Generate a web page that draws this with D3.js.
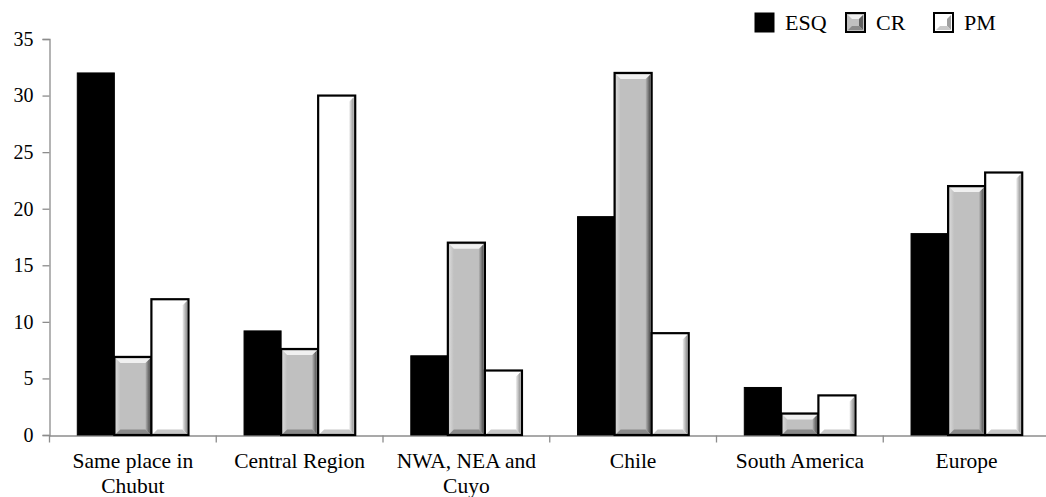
<!DOCTYPE html>
<html><head><meta charset="utf-8">
<script src="https://cdn.jsdelivr.net/npm/d3@7/dist/d3.min.js"></script>
<style>body{margin:0;background:#fff}svg{display:block}
svg text{font-family:"Liberation Serif","Times New Roman","DejaVu Serif",serif;}</style>
</head><body>
<script>
const categories = [["Same place in","Chubut"],["Central Region"],["NWA, NEA and","Cuyo"],["Chile"],["South America"],["Europe"]];
const series = ["ESQ","CR","PM"];
const esqValues = [32, 9.2, 7, 19.3, 4.2, 17.8];
const crValues = [6.9, 7.6, 17, 32, 1.9, 22];
const pmValues = [12, 30, 5.7, 9, 3.5, 23.2];
const yTicks = [0,5,10,15,20,25,30,35];

const W=1046,H=497;
const svg=d3.select("body").append("svg").attr("width",W).attr("height",H);
const catKeys=categories.map(c=>c.join(" "));
const x0=d3.scaleBand().domain(catKeys).range([49.5,1050]).paddingInner(0).paddingOuter(0);
const x1=d3.scaleBand().domain(series).range([0,x0.bandwidth()]).paddingInner(0).paddingOuter(0.75);
const y=d3.scaleLinear().domain([0,35]).range([435,39]);

const styles={
  ESQ:{fill:"#000",bevel:false},
  CR:{fill:"#c0c0c0",bevel:true,light:"#f0f0f0",dark:"#8a8a8a"},
  PM:{fill:"#ffffff",bevel:true,light:"#ffffff",dark:"#c8c8c8"}
};
const vals={ESQ:esqValues,CR:crValues,PM:pmValues};

const defs=svg.append("defs");
function grad(id,c1,c2){const g=defs.append("linearGradient").attr("id",id).attr("x1","0").attr("x2","1").attr("y1","0").attr("y2","0");
 g.append("stop").attr("offset","0%").attr("stop-color",c1);g.append("stop").attr("offset","100%").attr("stop-color",c2);}
grad("crR","#b5b5b5","#505050");grad("crL","#d8d8d8","#c0c0c0");
grad("pmR","#f0f0f0","#909090");grad("pmL","#ffffff","#ffffff");

// axes
const yAxis=d3.axisLeft(y).tickValues(yTicks).tickSize(7).tickPadding(9);
const gy=svg.append("g").attr("transform","translate(49.5,0)").call(yAxis);
gy.attr("font-family",null);
gy.select(".domain").attr("stroke","#8c8c8c").attr("stroke-width",1.3);
gy.selectAll(".tick line").attr("stroke","#8c8c8c").attr("stroke-width",1.3);
gy.selectAll(".tick text").attr("font-size",20).attr("fill","#000");

const xAxis=d3.axisBottom(x0).tickSize(0).tickFormat("");
const gx=svg.append("g").attr("transform","translate(0,435.5)").call(xAxis);
gx.select(".domain").attr("stroke","#8c8c8c").attr("stroke-width",1.3);
gx.selectAll(".bt").data(catKeys).enter().append("line").attr("class","bt")
 .attr("x1",d=>x0(d)).attr("x2",d=>x0(d)).attr("y1",0).attr("y2",7).attr("stroke","#8c8c8c").attr("stroke-width",1.3);

// bars
const groups=svg.append("g").selectAll("g").data(catKeys).enter().append("g").attr("transform",d=>`translate(${x0(d)},0)`);
groups.each(function(c,i){
  const g=d3.select(this);
  series.forEach(s=>{
    const v=vals[s][i], st=styles[s];
    const bx=x1(s), bw=x1.bandwidth(), by=y(v), bh=y(0)-y(v);
    if(!st.bevel){
      g.append("rect").attr("x",bx).attr("y",by).attr("width",bw).attr("height",bh).attr("fill",st.fill).attr("stroke","#000").attr("stroke-width",1);
      return;
    }
    g.append("rect").attr("x",bx).attr("y",by).attr("width",bw).attr("height",bh).attr("fill",st.fill);
    const b=Math.min(4.5,bh/2), x0b=bx+1.5, x1b=bx+bw-1.5, y0b=by+1.5, y1b=by+bh-1;
    const id=s==="CR"?"cr":"pm";
    g.append("polygon").attr("points",`${x0b},${y0b} ${x0b+b},${y0b+b} ${x0b+b},${y1b-b} ${x0b},${y1b}`).attr("fill",`url(#${id}L)`);
    g.append("polygon").attr("points",`${x1b},${y0b} ${x1b-b},${y0b+b} ${x1b-b},${y1b-b} ${x1b},${y1b}`).attr("fill",`url(#${id}R)`);
    g.append("polygon").attr("points",`${x0b},${y0b} ${x1b},${y0b} ${x1b-b},${y0b+b} ${x0b+b},${y0b+b}`).attr("fill",st.light);
    g.append("polygon").attr("points",`${x0b},${y1b} ${x1b},${y1b} ${x1b-b},${y1b-b} ${x0b+b},${y1b-b}`).attr("fill",st.dark);
    g.append("rect").attr("x",bx).attr("y",by).attr("width",bw).attr("height",bh).attr("fill","none").attr("stroke","#000").attr("stroke-width",2.2);
  });
});

// category labels
const lab=svg.append("g");
categories.forEach((c,i)=>{
  const cx=x0(catKeys[i])+x0.bandwidth()/2;
  const t=lab.append("text").attr("x",cx).attr("y",468).attr("text-anchor","middle")
   .attr("font-size",21.5).attr("fill","#000");
  c.forEach((line,j)=>t.append("tspan").attr("x",cx).attr("dy",j?25:0).text(line));
});

// legend
const legX=[755,846,934];
const leg=svg.append("g");
series.forEach((s,i)=>{
  const st=styles[s];
  const lg=leg.append("g").attr("transform",`translate(${legX[i]},13)`);
  lg.append("rect").attr("width",19).attr("height",19).attr("fill",st.fill).attr("stroke","#000").attr("stroke-width",s==="ESQ"?1:2);
  if(st.bevel){
    lg.append("polygon").attr("points","2,2 17,2 13,6 6,6").attr("fill",st.light);
    lg.append("polygon").attr("points","17,2 17,17 13,13 13,6").attr("fill",s==="CR"?"#606060":"#a0a0a0");
    lg.append("polygon").attr("points","2,17 17,17 13,13 6,13").attr("fill",st.dark);
  }
  lg.append("text").attr("x",30).attr("y",17).attr("font-size",22).attr("fill","#000").text(s);
});
</script>
</body></html>
